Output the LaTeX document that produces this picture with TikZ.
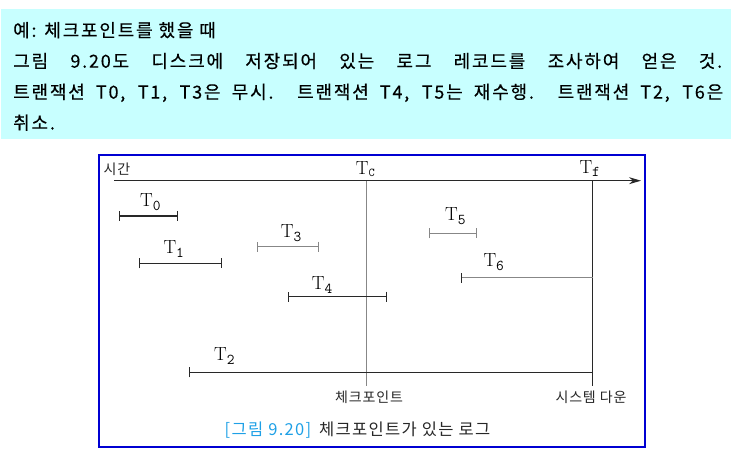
\documentclass[tikz,border=0pt]{standalone}
\usepackage{fontspec}
\newfontfamily\kr[LetterSpace=6]{Noto Sans CJK KR}
\newfontfamily\krls[LetterSpace=10,FakeBold=0.3]{Noto Sans CJK KR}
\newfontfamily\krcap[LetterSpace=8]{Noto Sans CJK KR}
\usetikzlibrary{arrows.meta}
\definecolor{bannercyan}{RGB}{200,255,255}
\definecolor{boxblue}{RGB}{0,0,210}
\definecolor{capblue}{RGB}{30,160,230}
\definecolor{darkline}{RGB}{40,40,40}
\definecolor{grayline}{RGB}{135,135,135}
\newcommand\Tlab[1]{T\raisebox{-4pt}{\ttfamily\fontsize{15}{15}\selectfont #1}}
\begin{document}
\begin{tikzpicture}[x=1pt,y=-1pt,
  banner/.style={anchor=base west, inner sep=0pt, font=\krls\fontsize{18}{21}\selectfont},
  krlabel/.style={inner sep=0pt, font=\kr\fontsize{14}{16}\selectfont, text=black!85},
  tlabel/.style={anchor=base west, inner sep=0pt, font=\fontsize{19}{22}\selectfont, text=black},
  darkival/.style={line width=1.1pt, draw=darkline},
  grayival/.style={line width=1.1pt, draw=grayline},
  bothticks/.style={{Bar[width=10pt]}-{Bar[width=10pt]}},
  leftdark/.style={{Bar[width=10pt,color=darkline]}-},
  lefttick/.style={{Bar[width=10pt]}-}
]
\useasboundingbox (0,0) rectangle (740,454);
% banner
\fill[bannercyan] (1,9) rectangle (731,139.5);
\node[banner] (l1) at (13,36.9) {예: 체크포인트를 했을 때};
\node[banner] (l2) at (13,67.7) {\makebox[709pt][s]{그림 9.20도 디스크에 저장되어 있는 로그 레코드를 조사하여 얻은 것.}};
\node[banner] (l3) at (13,98.6) {\makebox[710pt][s]{트랜잭션 T0, T1, T3은 무시. 트랜잭션 T4, T5는 재수행. 트랜잭션 T2, T6은}};
\node[banner] (l4) at (13,129.4) {취소.};
% figure frame
\draw[boxblue, line width=1.5pt] (99,155) rectangle (645,447);
% time axis
\coordinate (ax0) at (114,180.7);
\coordinate (ax1) at (641,180.7);
\draw[darkline, line width=1.1pt, -{Stealth[length=12pt,width=7pt]}] (ax0) -- (ax1);
\node[krlabel] (time) at (117,169) {시간};
% checkpoint and failure lines
\coordinate (tctop) at (366.7,180.7);
\coordinate (tcbot) at (366.7,386);
\coordinate (tftop) at (592.5,180.7);
\coordinate (tfbot) at (592.5,386);
\draw[grayline, line width=1.1pt] (tctop) -- (tcbot);
\draw[darkline, line width=1.1pt] (tftop) -- (tfbot);
\node[tlabel] (tc) at (355.7,175) {T\raisebox{-1.7pt}{\ttfamily\fontsize{12}{12}\selectfont C}};
\node[tlabel] (tf) at (579.3,174) {T\raisebox{-2.7pt}{\ttfamily\fontsize{15}{15}\selectfont f}};
% transactions
\coordinate (t0s) at (119.3,216);   \coordinate (t0e) at (178.3,216);
\coordinate (t1s) at (139.3,263.3); \coordinate (t1e) at (221.7,263.3);
\coordinate (t3s) at (257.3,246.7); \coordinate (t3e) at (319.3,246.7);
\coordinate (t4s) at (287.7,296.7); \coordinate (t4e) at (387.3,296.7);
\coordinate (t5s) at (429.3,233.3); \coordinate (t5e) at (476.7,233.3);
\coordinate (t6s) at (461,277.7);   \coordinate (t6e) at (592.5,277.7);
\coordinate (t2s) at (189.3,372.3); \coordinate (t2e) at (592.5,372.3);
\draw[darkival, bothticks] (t0s) -- (t0e);
\draw[darkival, bothticks] (t1s) -- (t1e);
\draw[grayival, bothticks] (t3s) -- (t3e);
\draw[darkival, bothticks] (t4s) -- (t4e);
\draw[grayival, bothticks] (t5s) -- (t5e);
\draw[grayival, leftdark] (t6s) -- (t6e);
\draw[darkival, lefttick] (t2s) -- (t2e);
\node[tlabel] (lt0) at (140,206.5) {\Tlab{0}};
\node[tlabel] (lt1) at (163.3,253.3) {\Tlab{1}};
\node[tlabel] (lt3) at (280.7,237.3) {\Tlab{3}};
\node[tlabel] (lt4) at (311.7,289.3) {\Tlab{4}};
\node[tlabel] (lt5) at (445,220.7) {\Tlab{5}};
\node[tlabel] (lt6) at (483.3,266.7) {\Tlab{6}};
\node[tlabel] (lt2) at (214,360.7) {\Tlab{2}};
% bottom labels
\node[krlabel] (cp) at (369,397) {체크포인트};
\node[krlabel] (down) at (591,397) {시스템 다운};
\node[inner sep=0pt, font=\krcap\fontsize{16.5}{18}\selectfont, text=black!85] (cap) at (357.5,430) {\textcolor{capblue}{[그림 9.20]}\hspace{8pt}체크포인트가 있는 로그};
\end{tikzpicture}
\end{document}
